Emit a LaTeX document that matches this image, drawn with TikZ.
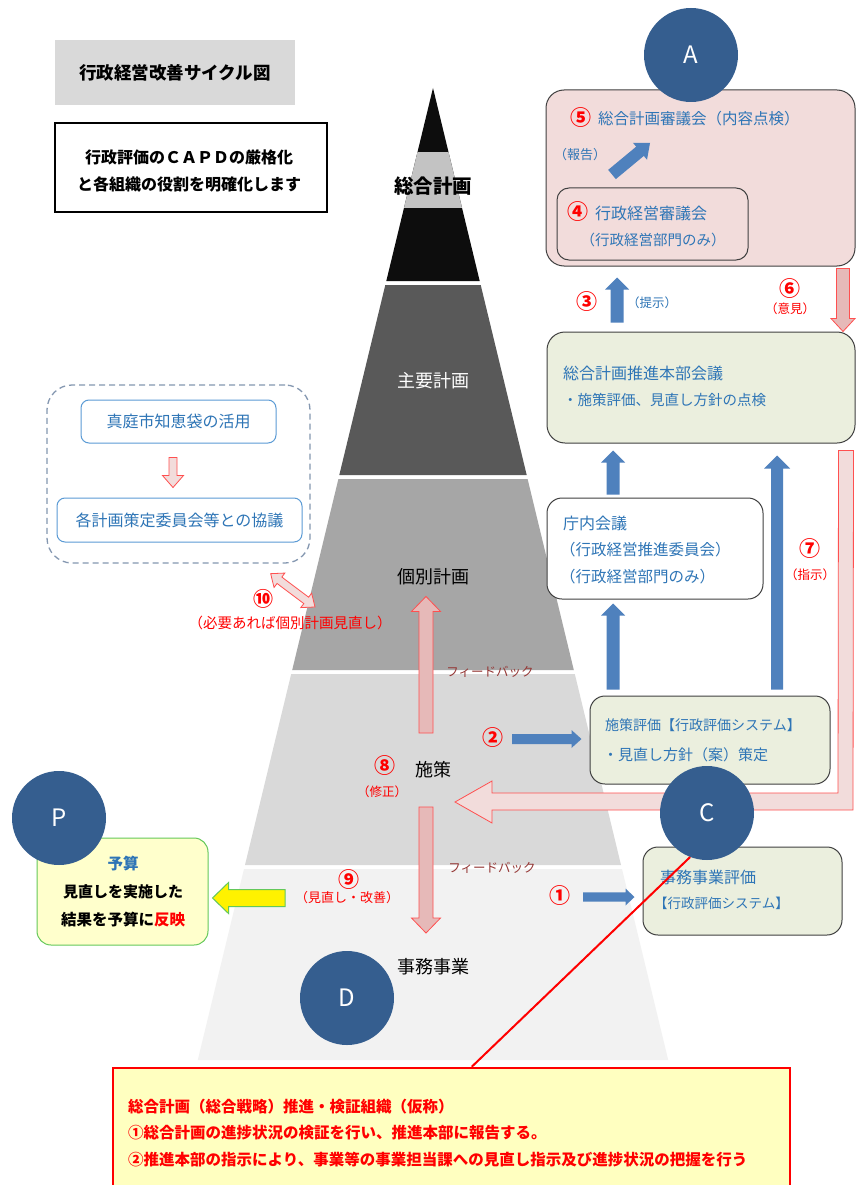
\documentclass[tikz,border=0pt]{standalone}
\usepackage{fontspec}
\setmainfont{Noto Sans CJK JP}
\usetikzlibrary{calc}
\definecolor{cblue}{RGB}{46,117,182}
\definecolor{cdark}{RGB}{53,94,143}
\definecolor{carrow}{RGB}{79,129,189}
\definecolor{cpink}{RGB}{242,220,219}
\definecolor{cpinkarrow}{RGB}{230,185,184}
\definecolor{cpinkborder}{RGB}{255,80,80}
\definecolor{colive}{RGB}{235,239,222}
\definecolor{cfeed}{RGB}{149,55,53}
\definecolor{cboxgray}{RGB}{64,64,64}
\definecolor{ctitle}{RGB}{217,217,217}
\definecolor{cdash}{RGB}{132,151,176}
\definecolor{cbox2}{RGB}{91,155,213}
\definecolor{cyel}{RGB}{255,255,204}
\definecolor{cyel2}{RGB}{255,255,192}
\definecolor{cgreen}{RGB}{100,200,90}
\definecolor{clayA}{RGB}{13,13,13}
\definecolor{clayB}{RGB}{89,89,89}
\definecolor{clayC}{RGB}{166,166,166}
\definecolor{clayD}{RGB}{217,217,217}
\definecolor{clayE}{RGB}{242,242,242}
\definecolor{cband}{RGB}{195,195,195}
\newcommand{\fsz}[1]{\fontsize{#1}{#1}\selectfont}
% block arrow: [style]{from}{to}{shaft half}{head half}{head length}
\newcommand{\blockarrow}[6][]{%
  \coordinate (bahead) at ($(#3)!#6!(#2)$);
  \path[#1] ($(#2)!#4!90:(#3)$) -- ($(bahead)!#4!90:(#3)$) -- ($(bahead)!#5!90:(#3)$) -- (#3)
    -- ($(bahead)!#5!-90:(#3)$) -- ($(bahead)!#4!-90:(#3)$) -- ($(#2)!#4!-90:(#3)$) -- cycle;}
\newcommand{\dblarrow}[6][]{%
  \coordinate (dbhA) at ($(#3)!#6!(#2)$);
  \coordinate (dbhB) at ($(#2)!#6!(#3)$);
  \path[#1] (#2) -- ($(dbhB)!#5!90:(#3)$) -- ($(dbhB)!#4!90:(#3)$) -- ($(dbhA)!#4!90:(#3)$)
    -- ($(dbhA)!#5!90:(#3)$) -- (#3) -- ($(dbhA)!#5!-90:(#3)$) -- ($(dbhA)!#4!-90:(#3)$)
    -- ($(dbhB)!#4!-90:(#3)$) -- ($(dbhB)!#5!-90:(#3)$) -- cycle;}
\begin{document}
\begin{tikzpicture}[x=1pt,y=-1pt,
  box/.style={draw=cboxgray, line width=1pt, inner sep=0pt},
  tx/.style={inner sep=0pt, text=cblue, font=\fsz{15}},
  num/.style={inner sep=0pt, text=red, font=\fsz{21}\bfseries},
  rtx/.style={inner sep=0pt, text=red, font=\fsz{12.5}},
  lvl/.style={inner sep=0pt, font=\fsz{18}},
  circ/.style={circle, fill=cdark, minimum size=94pt, inner sep=0pt, text=white, font=\fsz{24}},
  barrow/.style={fill=carrow},
  parrow/.style={fill=cpinkarrow, draw=cpinkborder, line width=0.8pt},
  plarrow/.style={fill=cpink, draw=cpinkborder, line width=0.8pt},
  feed/.style={inner sep=0pt, text=cfeed, font=\fsz{12.5}},
  rbt/.style={inner sep=0pt, text=red, font=\fsz{15.5}\bfseries, anchor=west}]
\useasboundingbox (0,0) rectangle (856,1185);
\clip (0,0) rectangle (856,1185);
\fill[white] (0,0) rectangle (856,1185);

% ---------- pyramid ----------
\fill[clayA] (433,88) -- (479.7,281) -- (386.3,281) -- cycle;
\begin{scope}
  \clip (433,88) -- (479.7,281) -- (386.3,281) -- cycle;
  \fill[cband] (370,152) rectangle (500,208);
\end{scope}
\fill[clayB] (385.3,285) -- (480.7,285) -- (526.7,475) -- (339.3,475) -- cycle;
\fill[clayC] (338.4,479) -- (527.6,479) -- (573.8,670) -- (292.2,670) -- cycle;
\fill[clayD] (291.2,674) -- (574.8,674) -- (621,865) -- (245,865) -- cycle;
\fill[clayE] (244,869) -- (622,869) -- (668.2,1060) -- (197.8,1060) -- cycle;

\node[lvl, font=\fsz{19.5}\bfseries] (lv1) at (433,186) {総合計画};
\node[lvl, text=white] (lv2) at (433,381) {主要計画};
\node[lvl] (lv3) at (433,577) {個別計画};
\node[lvl] (lv4) at (433,770) {施策};
\node[lvl] (lv5) at (433,967) {事務事業};

% ---------- title ----------
\node[fill=ctitle, minimum width=240pt, minimum height=65pt, inner sep=0pt, font=\fsz{17.5}\bfseries] (title) at (175,72.5) {行政経営改善サイクル図};
\node[draw=black, line width=1.2pt, minimum width=272pt, minimum height=89pt, inner sep=0pt] (sub) at (191,167.5) {};
\node[inner sep=0pt, font=\fsz{16}\bfseries] (sub1) at (189,157) {行政評価のＣＡＰＤの厳格化};
\node[inner sep=0pt, font=\fsz{16}\bfseries] (sub2) at (189,184) {と各組織の役割を明確化します};

% ---------- left group ----------
\node[draw=cdash, dash pattern=on 6pt off 4pt, line width=1.3pt, rounded corners=25pt, minimum width=263pt, minimum height=178pt, inner sep=0pt] (grp) at (178.5,474) {};
\node[draw=cbox2, fill=white, line width=1pt, rounded corners=8pt, minimum width=195pt, minimum height=43pt, inner sep=0pt, text=cblue, font=\fsz{16}] (chie) at (178.5,421.5) {真庭市知恵袋の活用};
\node[draw=cbox2, fill=white, line width=1pt, rounded corners=8pt, minimum width=245pt, minimum height=44pt, inner sep=0pt, text=cblue, font=\fsz{16}] (kyogi) at (179.5,520) {各計画策定委員会等との協議};
\coordinate (dA) at ($(chie.south)+(-5.5,14)$);
\coordinate (dB) at ($(kyogi.north)+(-6.5,-10)$);
\blockarrow[plarrow]{dA}{dB}{4pt}{10.5pt}{12pt}
\coordinate (tA) at ($(grp.south east)+(-40,10)$);
\coordinate (tB) at (315,607);
\dblarrow[plarrow]{tA}{tB}{4pt}{9pt}{11pt}
\node[num, font=\fsz{20}\bfseries] (n10) at (263,599) {⑩};
\node[rtx, font=\fsz{14.5}] (t10) at (290,623) {（必要あれば個別計画見直し）};

% ---------- right top ----------
\node[box, fill=cpink, minimum width=309pt, minimum height=176pt, rounded corners=18pt] (b5) at (700.5,178) {};
\node[num] (n5) at (581,118) {⑤};
\node[tx, anchor=west, font=\fsz{15.5}] (b5t) at (598,119) {総合計画審議会（内容点検）};
\node[tx, font=\fsz{13}] (rep) at (580,155) {（報告）};
\node[box, fill=cpink, minimum width=191pt, minimum height=72pt, rounded corners=12pt] (b4) at (652.5,224) {};
\node[num] (n4) at (578,212) {④};
\node[tx, anchor=west, font=\fsz{16}] (b4t) at (595,213) {行政経営審議会};
\node[tx, font=\fsz{14.5}] (b4t2) at (653,240) {（行政経営部門のみ）};
\coordinate (a5a) at ($(b4.north)+(-40.5,-13)$);
\coordinate (a5b) at (650,143);
\blockarrow[barrow]{a5a}{a5b}{6pt}{11pt}{13pt}
\node[circ] (cA) at (691,55) {A};

% hub
\node[box, fill=colive, minimum width=308pt, minimum height=111pt, rounded corners=18pt] (hub) at (701,387.5) {};
\node[tx, anchor=west, font=\fsz{16}] (hubt1) at (563,373) {総合計画推進本部会議};
\node[tx, anchor=west, font=\fsz{14.5}] (hubt2) at (563,400) {・施策評価、見直し方針の点検};

% arrow 3 and 6
\coordinate (a3a) at ($(hub.north)+(-84,-9)$);
\coordinate (a3b) at ($(b5.south)+(-83.5,11)$);
\blockarrow[barrow]{a3a}{a3b}{6.5pt}{12pt}{12pt}
\node[num] (n3) at (587,302) {③};
\node[rtx, text=cblue] (t3) at (652,303) {（提示）};
\coordinate (a6a) at ($(b5.south)+(142.5,2)$);
\coordinate (a6b) at ($(hub.north)+(142,0)$);
\blockarrow[parrow]{a6a}{a6b}{6.5pt}{12pt}{13pt}
\node[num] (n6) at (790,289) {⑥};
\node[rtx] (t6) at (790,309) {（意見）};

% chonai
\node[box, fill=white, minimum width=216pt, minimum height=101pt, rounded corners=15pt] (cho) at (655,548.5) {};
\node[tx, anchor=west, font=\fsz{16}] (cho1) at (563,523) {庁内会議};
\node[tx, anchor=west, font=\fsz{15.5}] (cho2) at (560,550) {（行政経営推進委員会）};
\node[tx, anchor=west, font=\fsz{15.5}] (cho3) at (560,577) {（行政経営部門のみ）};

% sesaku hyoka
\node[box, fill=colive, minimum width=240pt, minimum height=88pt, rounded corners=15pt] (ses) at (710,740) {};
\node[tx, anchor=west, font=\fsz{14}] (ses1) at (605,725) {施策評価【行政評価システム】};
\node[tx, anchor=west] (ses2) at (603,755) {・見直し方針（案）策定};

% jimu hyoka
\node[box, fill=colive, minimum width=199pt, minimum height=88pt, rounded corners=15pt] (jim) at (742.5,891) {};
\node[tx, anchor=west, font=\fsz{16}] (jim1) at (660,877) {事務事業評価};
\node[tx, anchor=west, font=\fsz{13.5}] (jim2) at (654,903) {【行政評価システム】};

% blue arrows between boxes
\coordinate (aTa) at ($(cho.north)+(-42,-3)$);
\coordinate (aTb) at ($(hub.south)+(-88,7)$);
\blockarrow[barrow]{aTa}{aTb}{6.5pt}{12pt}{12pt}
\coordinate (aSa) at ($(ses.north)+(-97,-6)$);
\coordinate (aSb) at ($(cho.south)+(-42,4)$);
\blockarrow[barrow]{aSa}{aSb}{6.5pt}{12pt}{12pt}
\coordinate (aLa) at ($(ses.north)+(67,-6)$);
\coordinate (aLb) at ($(hub.south)+(76,12)$);
\blockarrow[barrow]{aLa}{aLb}{6pt}{13pt}{13pt}
\node[num] (n7) at (810,549) {⑦};
\node[rtx] (t7) at (810,575) {（指示）};

% arrow 7 (bent)
\coordinate (b7a) at ($(hub.south east)+(-17,7)$);
\path[plarrow] (b7a) -- ++(15,0) -- (853,810) -- (492,810) -- (492,823) -- (455,802) -- (492,781) -- (492,793) -- (838,793) -- cycle;

% arrows 2 and 1
\coordinate (a2a) at (512,739);
\coordinate (a2b) at ($(ses.west)+(-8,-1)$);
\blockarrow[barrow]{a2a}{a2b}{5pt}{9pt}{10pt}
\node[num] (n2) at (493,738) {②};
\coordinate (a1a) at (583,897);
\coordinate (a1b) at ($(jim.west)+(-8,6)$);
\blockarrow[barrow]{a1a}{a1b}{4.7pt}{8.5pt}{9pt}
\node[num] (n1) at (560,896) {①};

% feedback arrows
\coordinate (fUa) at (426,733);
\coordinate (fUb) at ($(lv3.south)+(-7,11)$);
\blockarrow[parrow]{fUa}{fUb}{7pt}{14.5pt}{15pt}
\node[feed] (fb1) at (490,672) {フィードバック};
\coordinate (fDa) at (426,807);
\coordinate (fDb) at (426,933);
\blockarrow[parrow]{fDa}{fDb}{7pt}{14.5pt}{15pt}
\node[feed] (fb2) at (492,868) {フィードバック};
\node[num] (n8) at (385,766) {⑧};
\node[rtx] (t8) at (382,792) {（修正）};
\node[num] (n9) at (349,880) {⑨};
\node[rtx, font=\fsz{13}] (t9) at (347,898) {（見直し・改善）};

% P box
\node[draw=cgreen, fill=cyel, line width=1pt, rounded corners=14pt, minimum width=171pt, minimum height=107pt, inner sep=0pt] (pb) at (122.5,891.5) {};
\node[inner sep=0pt, text=cblue, font=\fsz{15.5}\bfseries] (pb1) at (123,864) {予算};
\node[inner sep=0pt, font=\fsz{15}\bfseries] (pb2) at (123,892) {見直しを実施した};
\node[inner sep=0pt, font=\fsz{15.5}\bfseries] (pb3) at (123,920) {結果を予算に\textcolor{red}{反映}};
\coordinate (yA) at (285,898);
\coordinate (yB) at ($(pb.east)+(4,6.5)$);
\blockarrow[fill=yellow, draw=cgreen, line width=1pt]{yA}{yB}{8.5pt}{15.5pt}{16pt}
\node[circ] (cP) at (59,818) {P};
\node[circ] (cD) at (347,998) {D};

% bottom red box
\node[draw=red, fill=cyel2, line width=2.5pt, minimum width=677pt, minimum height=122pt, inner sep=0pt] (rb) at (451.5,1129) {};
\node[rbt] (rb1) at (128,1107) {総合計画（総合戦略）推進・検証組織（仮称）};
\node[rbt] (rb2) at (128,1133) {①総合計画の進捗状況の検証を行い、推進本部に報告する。};
\node[rbt] (rb3) at (128,1160) {②推進本部の指示により、事業等の事業担当課への見直し指示及び進捗状況の把握を行う};

% red line and circle C
\coordinate (rbtop) at ($(rb.north west)+(360,0)$);
\node[circ] (cC) at (707,813) {C};
\draw[red, line width=2pt] (cC.249) -- (rbtop);
\end{tikzpicture}
\end{document}
